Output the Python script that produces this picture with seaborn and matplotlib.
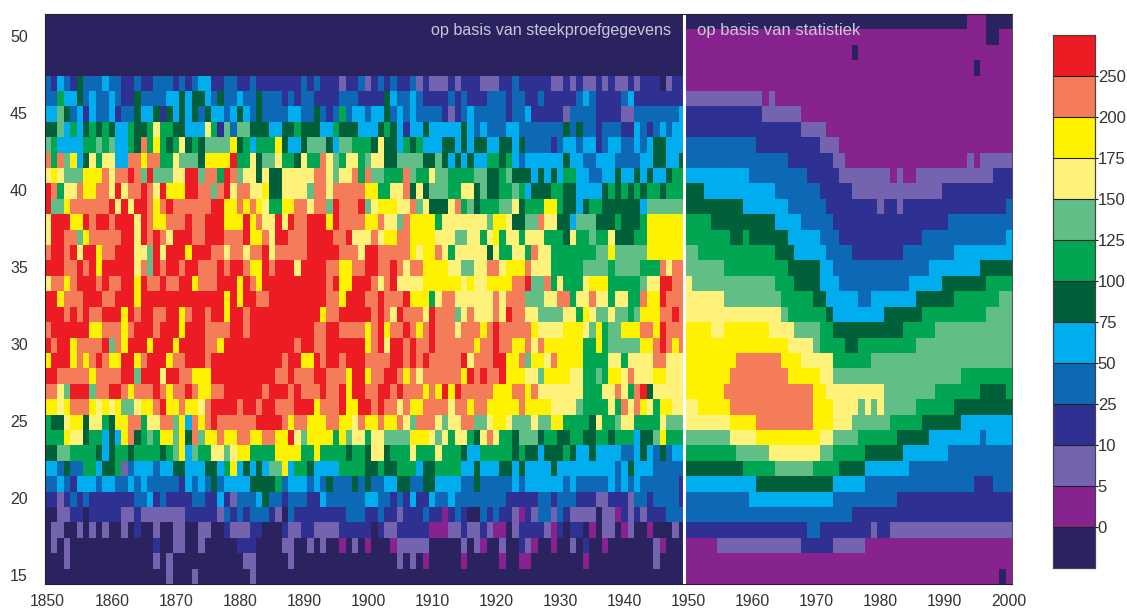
import numpy as np
import pandas as pd
import seaborn as sns
import matplotlib.pyplot as plt
from matplotlib.colors import ListedColormap

# klassen: 0 navy, 1 paars, ... Y geel, S zalm, R rood
class_codes = "0123456789YSR"
class_colors = ["#2a2360", "#87238f", "#7463ae", "#2e3192", "#0d68b5", "#00aeef", "#00603a",
                "#00a651", "#62be87", "#fff27a", "#fff200", "#f47c58", "#ed1c24"]
bar_ticks = ["0", "5", "10", "25", "50", "75", "100", "125", "150", "175", "200", "250"]

ages = list(range(51, 14, -1))
years = list(range(1850, 2001))

# 1850-1949, per leeftijd van 51 naar 15, tien jaar per blok
sample_rows = [
    "0000000000 0000000000 0000000000 0000000000 0000000000 0000000000 0000000000 0000000000 0000000000 0000000000",
    "0000000000 0000000000 0000000000 0000000000 0000000000 0000000000 0000000000 0000000000 0000000000 0000000000",
    "0000000000 0000000000 0000000000 0000000000 0000000000 0000000000 0000000000 0000000000 0000000000 0000000000",
    "0000000000 0000000000 0000000000 0000000000 0000000000 0000000000 0000000000 0000000000 0000000000 0000000000",
    "4354364445 4433433444 3434553344 3343333333 4343332334 2343433423 2223233322 2334333332 2323223232 2323330233",
    "4475564544 5433644445 5656654644 5446444343 4433334443 3336544543 3334343334 4434433433 3334543333 4533333333",
    "5586453544 5344655636 5656465545 6546444455 4464347455 4556454544 4432345444 4434453333 3244443333 2244444445",
    "6685756767 6557667977 6655597384 8866655667 6665576665 5567653556 5555565454 4455444444 4646443444 3354345455",
    "8755557787 85576S7Y76 796768888Y 675777Y655 6888658877 7696657675 5566565665 5665644443 4554553455 4454566555",
    "S7S8Y56979 955SSYSS77 98886YYYYR 7796889776 977S987997 8996688886 6865656557 7675455555 5655445554 4445566556",
    "9Y9888YYYS 9SSRS8R888 99RR8SS7RS 8996966999 99SS9899S7 S88777S877 9887777886 6786665656 5775544556 5565655677",
    "RS799SYYSS 9R9SSRS9RY YYRRSS8SR9 SS99Y66999 98SS9SSSSS YY7799S696 8887799686 6778756667 7665555676 7676776777",
    "R88YSSSSSS R9R9RRSYSR SSSSSSRRYY SYSY977YYS S9SS8RSSSR 89YYY99S89 6669S78677 78896777YY 7665677666 6665888888",
    "9RRRYYRSRR SRRR9RSYYS SSRSSRRRYY YRYS99R9RS SRRRYRSSSS YYS998SYYY Y799999998 YY96688S99 6658886667 6667YYYYYY",
    "9RRSS8YSSS SSRR9RSRS9 RRRSSRRRSS SRYYS9RRSS SRRRRSSR99 9S9YYSSYYY Y999889979 Y799799977 7697787796 6677YYYYYY",
    "SRRSR9RRYS SRRR998R9R RRYRRRSS9S S9SSR9SSSS SRRRRRSSS9 RRSSSSSY9Y YS97999996 977997S997 77777788Y8 8888YYYYYY",
    "RRRSSRSRYR RRRR9S8RSR RSRRSSSRSR RSYYRSRRR9 RRRRSSYYSS RRSSRS9SSY YYY998899S S9YYYS9997 7777888878 888777S9SS",
    "9SSYSRRRSR SSRRYRSSRS SRRYSSSRRR YRSYRRRRRR RRRRSRYYRR RS9SR9999Y YYYYY9Y99Y YYYSSR88S7 97779YYY77 777899RRSS",
    "RRYSSSRRRS SRRRYRRRRR RRRRRRRRYR YRRSSRRRRR RRRRSSYRRR SSRSSSRYYY 79SS999999 S9SSS88899 SS799S9979 977SYYRSSS",
    "RRRSRSRSSR RRYRSRRSSR RYSRRSRRYR RSRRRRRRRR RRRYSSRRRR RSRS9RSSS9 RSSS89S999 S9RSS99888 8997Y98898 878YYYSSRS",
    "SRRRRRRYYS SSYSRRRSRR RYRRRSSSSR RSRRRRRRRR RRSSRRSSSS YSRYSSRSYS RSSS9SSSYS RSSSSSY999 9YYY98Y788 YYYSSYRSSS",
    "RSRRYSSSSR 8SYRRRYRRR YRRRRSSYRR RRRRRRRRRS RRSSRRRRRR YSR9RRSRSS RSSSSSSYSS RSSYYS9SYY YYYY77Y788 888YYSRSYS",
    "YRRRYSYSRS YYRRYSRRRY SSRRRSRRRR RRRRRRRSRR YYRSRRSRRR SSSSRRSRSR SSSSSR9SSS RRYYS8YY9S YYYY777799 79999SS999",
    "RRSSSSSYSS SSRR8RRR9R RSSYYYRRRR RRRRRRSSRS SSRRSSSYRR YSSRRSYS9S SSSSSYRSRS SRYYY998YY YY997787YY 9S999YY999",
    "SS98RRR8SS RRSYSSSRSY SSRSYYSSRR RRRRSRRRSR SSSRSSRYRR SSRRSRSSSY SYRYRSSSSS YYYSSYS999 999977799S 97SR699999",
    "YY9YSSSY9Y 9Y889YYSRY YSYY9SRRRR SRRSRRSSSR RRYSSSRYYR RSRSS9SYYS SSS9SSYSSY YYYYSYYYY9 9998777797 S9SY97YY99",
    "7669YY6997 6YYSS799SS 8Y5SYSRSSS SSSRRRRSYS SYYYSSYY9S YYSYYS98SS S9899SS889 YY9888988Y Y777769778 9977779888",
    "777Y996775 65YS6787YY 8Y6S8YYSYY SSYYSSYYR9 8YYYY7Y899 7998888YYY 989799769S 9776888677 6677667767 775668Y777",
    "6688777765 6776777767 8Y58779989 YY7777YYYY 77Y7777677 6996777977 7977765577 7776766566 6765565555 4456546455",
    "5546447756 6724555455 665556657Y 5656588Y57 7655557777 6676677756 6777755655 5665655556 5555555554 5655544444",
    "4454355545 5445454444 4354546455 5566667455 5454644464 6445566446 6555544644 4445455555 5454444454 5454444443",
    "3323434333 3333445343 3334433532 4445644344 4335444444 5544343533 5445444444 4433333443 4443332233 3244344443",
    "0022330333 3322322222 2233333243 4344432043 3333333444 3343323334 3313430043 4332132442 4322220221 3232333444",
    "0220020202 0020300200 2200220032 2233000322 3322223333 3032233333 1112232232 1102333321 3033010220 1200100020",
    "0202000000 0000000300 2200200000 3330000220 0202001020 1000122222 0000020210 0200321001 0020300100 0000021000",
    "0002000000 0000000202 0000000000 0220000020 0000000000 0000020201 0000010000 0100110000 0000100000 0000020000",
    "0000000000 0000000002 0002000000 0020000000 0000000000 0000000000 0000000000 0000000000 0000000000 0000000000",
]

# 1950-2000, zelfde leeftijden, als klasse:aantal jaren
stats_rows = [
    "0:44 1:3 0:4",
    "1:47 0:2 1:2",
    "1:26 0:1 1:24",
    "1:45 0:1 1:5",
    "1:51",
    "2:12 1:1 2:1 1:37",
    "3:12 2:6 1:33",
    "3:18 2:4 1:29",
    "4:11 3:10 2:3 1:27",
    "4:16 3:7 2:2 1:19 2:1 1:1 2:5",
    "5:10 4:9 3:5 2:8 1:1 2:1 1:2 2:12 3:3",
    "6:3 5:11 4:7 3:5 2:14 3:11",
    "6:9 5:7 4:6 3:8 2:1 3:2 2:1 3:16 4:1",
    "7:4 6:10 5:4 4:5 3:18 4:10",
    "7:7 6:2 7:1 6:6 5:5 4:3 3:13 4:13 5:1",
    "8:2 7:12 6:3 5:5 4:4 3:8 4:8 5:9",
    "8:6 7:10 6:5 5:2 4:15 5:8 6:5",
    "9:1 8:13 7:3 6:4 5:3 4:11 5:5 6:7 7:4",
    "9:6 8:9 7:5 6:2 5:5 4:2 5:7 6:6 7:7 8:2",
    "9:15 8:1 7:6 6:1 5:8 6:6 7:10 8:4",
    "Y:4 9:2 Y:7 9:4 8:4 7:2 6:11 7:5 8:12",
    "Y:16 9:4 8:1 7:4 6:2 7:9 8:15",
    "Y:8 S:7 Y:3 9:5 7:6 8:22",
    "Y:7 S:9 Y:5 9:2 8:20 7:8",
    "Y:6 S:14 Y:2 9:9 8:8 7:7 6:4 7:1",
    "9:2 Y:5 S:13 Y:3 9:4 8:1 9:1 8:1 9:1 8:5 7:6 6:9",
    "9:7 Y:4 S:9 Y:3 9:3 8:6 7:5 6:6 5:8",
    "8:7 9:4 Y:10 9:2 8:4 7:6 6:5 5:8 4:1 5:4",
    "7:8 8:5 9:8 8:2 7:5 6:6 5:7 4:10",
    "6:9 7:5 8:6 7:4 6:4 5:7 4:16",
    "5:11 6:12 5:5 4:17 3:3 4:3",
    "4:10 5:13 4:10 3:18",
    "4:26 3:25",
    "3:19 4:2 3:8 2:1 3:2 2:19",
    "1:5 2:13 3:5 2:5 1:23",
    "1:51",
    "1:49 0:1 1:1",
]


def expand_runs(row):
    out = ""
    for part in row.split():
        code, count = part.split(":")
        out += code * int(count)
    return out


grid = []
for age, left, right in zip(ages, sample_rows, stats_rows):
    chars = left.replace(" ", "") + expand_runs(right)
    if len(chars) != len(years):
        raise ValueError(f"{age}: {len(chars)}")
    grid.append([class_codes.index(c) for c in chars])

df = pd.DataFrame(grid, index=ages, columns=years)

sns.set_theme(style="white")
plt.rcParams["font.family"] = ["Liberation Sans", "DejaVu Sans"]

W, H = 1127, 612
fig = plt.figure(figsize=(W / 100, H / 100), dpi=100)
ax = fig.add_axes([44.5 / W, 1 - 584 / H, 967.5 / W, 570 / H])
cax = fig.add_axes([1053 / W, 1 - 568 / H, 42 / W, 533 / H])

age_labels = [str(a) if a % 5 == 0 else "" for a in ages]
sns.heatmap(df, ax=ax, cbar_ax=cax, cmap=ListedColormap(class_colors), vmin=-0.5, vmax=12.5,
            xticklabels=10, yticklabels=age_labels, linewidths=0)

ax.tick_params(axis="x", length=0, pad=7, labelsize=11.3, labelcolor="#333333", rotation=0)
ax.tick_params(axis="y", length=0, pad=12, labelsize=11.5, labelcolor="#333333", rotation=0)
for spine in ax.spines.values():
    spine.set_visible(True)
    spine.set_color("#222222")
    spine.set_linewidth(0.8)
ax.spines["right"].set_color("#555555")

ax.axvline(99.8, color="white", lw=2.2, clip_on=False)
ax.text(97.8, 1.1, "op basis van steekproefgegevens", color="#c9c9d8", fontsize=11.6,
        ha="right", va="center")
ax.text(101.9, 1.1, "op basis van statistiek", color="#c9c9d8", fontsize=12,
        ha="left", va="center")

# kleurenbalk: gelijke vakken, de grenzen dragen de labels
bar_pos = np.arange(len(bar_ticks)) + 0.5
cax.set_yticks(bar_pos)
cax.set_yticklabels(bar_ticks)
cax.tick_params(axis="y", length=4, width=0.8, direction="inout", pad=0, labelsize=12,
                labelcolor="#333333", color="#222222")
for p in bar_pos:
    cax.axhline(p, color="#222222", lw=0.8)
for spine in cax.spines.values():
    spine.set_visible(True)
    spine.set_color("#444444")
    spine.set_linewidth(0.8)

fig.savefig("out.png", dpi=100)
